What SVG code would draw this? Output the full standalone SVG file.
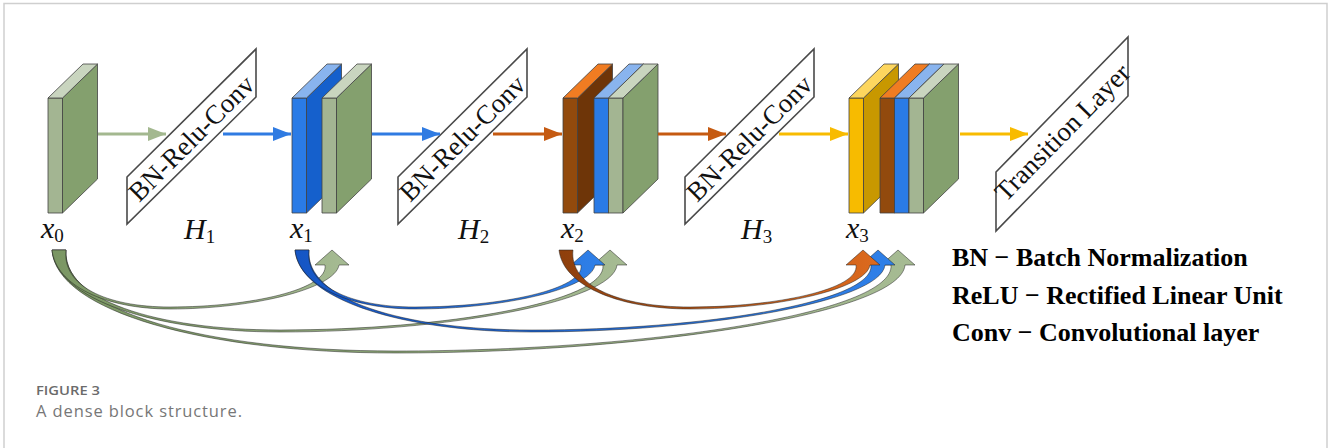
<svg xmlns="http://www.w3.org/2000/svg" width="1328" height="448" viewBox="0 0 1328 448">
  <defs>
    <style>
      .edge { stroke: #424242; stroke-width: 0.8; stroke-linejoin: round; }
      .g-front { fill: #a3b592; } .g-side { fill: #84a06e; } .g-top { fill: #c9d5bf; }
      .b-front { fill: #2a7be6; } .b-side { fill: #1560cc; } .b-top { fill: #89b4ee; }
      .o-front { fill: #924a0d; } .o-side { fill: #6e3508; } .o-top { fill: #f07c22; }
      .y-front { fill: #f7bb00; } .y-side { fill: #c89800; } .y-top { fill: #fdd65e; }
      .op { fill: #ffffff; stroke: #4a4a4a; stroke-width: 1.6; stroke-linejoin: miter; }
      .optext { font-family: "Liberation Serif", "Times New Roman", serif; font-size: 27px; fill: #111; text-anchor: middle; }
      .math { font-family: "Liberation Serif", "Times New Roman", serif; font-size: 30px; fill: #111; }
      .legend { font-family: "Liberation Serif", "Times New Roman", serif; font-size: 26px; font-weight: bold; fill: #000; }
      .flow { fill: none; stroke-width: 3; }
      .skip { stroke: #1e1e1e; stroke-opacity: 0.7; stroke-width: 0.7; stroke-linejoin: round; }
      .cap1 { font-family: "Open Sans", "Liberation Sans", sans-serif; font-size: 12.5px; font-weight: 600; fill: #6b6b6b; }
      .cap2 { font-family: "Open Sans", "Liberation Sans", sans-serif; font-size: 16.5px; fill: #777777; }
    </style>
    <marker id="ah-green" markerUnits="userSpaceOnUse" markerWidth="18" markerHeight="14" refX="18" refY="7" orient="auto">
      <path d="M0,0 L18,7 L0,14 z" fill="#a3b88f"/>
    </marker>
    <marker id="ah-blue" markerUnits="userSpaceOnUse" markerWidth="18" markerHeight="14" refX="18" refY="7" orient="auto">
      <path d="M0,0 L18,7 L0,14 z" fill="#2f7be2"/>
    </marker>
    <marker id="ah-orange" markerUnits="userSpaceOnUse" markerWidth="18" markerHeight="14" refX="18" refY="7" orient="auto">
      <path d="M0,0 L18,7 L0,14 z" fill="#c55a11"/>
    </marker>
    <marker id="ah-yellow" markerUnits="userSpaceOnUse" markerWidth="18" markerHeight="14" refX="18" refY="7" orient="auto">
      <path d="M0,0 L18,7 L0,14 z" fill="#f8bb00"/>
    </marker>
    <linearGradient id="grad-green" x1="0" y1="0" x2="1" y2="0">
      <stop offset="0" stop-color="#7a9663"/>
      <stop offset="1" stop-color="#a6bb93"/>
    </linearGradient>
    <linearGradient id="grad-blue" x1="0" y1="0" x2="1" y2="0">
      <stop offset="0" stop-color="#1555c4"/>
      <stop offset="1" stop-color="#2f80e8"/>
    </linearGradient>
    <linearGradient id="grad-orange" x1="0" y1="0" x2="1" y2="0">
      <stop offset="0" stop-color="#8e3f0c"/>
      <stop offset="1" stop-color="#dd6a1e"/>
    </linearGradient>
  </defs>

  <rect width="1328" height="448" fill="#ffffff"/>
  <!-- open frame: top, left and right edges -->
  <path d="M4,448 V3.5 H1327 V448" fill="none" stroke="#cfcfcf" stroke-width="1.5"/>

  <!-- feature map x0 -->
  <g id="x0">
    <rect class="g-front edge" x="48" y="98" width="14.5" height="115"/>
    <polygon class="g-side edge" points="62.5,98 97.5,64 97.5,179 62.5,213"/>
    <polygon class="g-top edge" points="48,98 83,64 97.5,64 62.5,98"/>
    <text class="math" x="41" y="238"><tspan font-style="italic">x</tspan><tspan font-size="19" dy="4">0</tspan></text>
  </g>

  <!-- composite function H1 -->
  <g id="h1">
    <polygon class="op" points="127,177 256,49 256,97 127,224"/>
    <text class="optext" transform="translate(192,139) rotate(-45)" y="8">BN-Relu-Conv</text>
    <text class="math" x="184" y="239"><tspan font-style="italic">H</tspan><tspan font-size="19" dy="4">1</tspan></text>
  </g>

  <!-- feature map x1 -->
  <g id="x1">
    <rect class="b-front edge" x="292" y="98" width="14.5" height="115"/>
    <polygon class="b-side edge" points="306.5,98 341.5,64 341.5,179 306.5,213"/>
    <polygon class="b-top edge" points="292,98 327,64 341.5,64 306.5,98"/>
    <rect class="g-front edge" x="322" y="98" width="14.5" height="115"/>
    <polygon class="g-side edge" points="336.5,98 371.5,64 371.5,179 336.5,213"/>
    <polygon class="g-top edge" points="322,98 357,64 371.5,64 336.5,98"/>
    <text class="math" x="290" y="238"><tspan font-style="italic">x</tspan><tspan font-size="19" dy="4">1</tspan></text>
  </g>

  <!-- composite function H2 -->
  <g id="h2">
    <polygon class="op" points="398,177 527,49 527,97 398,224"/>
    <text class="optext" transform="translate(463,139) rotate(-45)" y="8">BN-Relu-Conv</text>
    <text class="math" x="458" y="239"><tspan font-style="italic">H</tspan><tspan font-size="19" dy="4">2</tspan></text>
  </g>

  <!-- feature map x2 -->
  <g id="x2">
    <rect class="o-front edge" x="563" y="98" width="14.5" height="115"/>
    <polygon class="o-side edge" points="577.5,98 612.5,64 612.5,179 577.5,213"/>
    <polygon class="o-top edge" points="563,98 598,64 612.5,64 577.5,98"/>
    <rect class="b-front edge" x="594" y="98" width="14.5" height="115"/>
    <polygon class="b-side edge" points="608.5,98 643.5,64 643.5,179 608.5,213"/>
    <polygon class="b-top edge" points="594,98 629,64 643.5,64 608.5,98"/>
    <rect class="g-front edge" x="608.5" y="98" width="14.5" height="115"/>
    <polygon class="g-side edge" points="623,98 658,64 658,179 623,213"/>
    <polygon class="g-top edge" points="608.5,98 643.5,64 658,64 623,98"/>
    <text class="math" x="561" y="238"><tspan font-style="italic">x</tspan><tspan font-size="19" dy="4">2</tspan></text>
  </g>

  <!-- composite function H3 -->
  <g id="h3">
    <polygon class="op" points="685,177 814,49 814,97 685,224"/>
    <text class="optext" transform="translate(750,139) rotate(-45)" y="8">BN-Relu-Conv</text>
    <text class="math" x="741" y="239"><tspan font-style="italic">H</tspan><tspan font-size="19" dy="4">3</tspan></text>
  </g>

  <!-- feature map x3 -->
  <g id="x3">
    <rect class="y-front edge" x="849" y="98" width="14.5" height="115"/>
    <polygon class="y-side edge" points="863.5,98 898.5,64 898.5,179 863.5,213"/>
    <polygon class="y-top edge" points="849,98 884,64 898.5,64 863.5,98"/>
    <rect class="o-front edge" x="880" y="98" width="14.5" height="115"/>
    <polygon class="o-side edge" points="894.5,98 929.5,64 929.5,179 894.5,213"/>
    <polygon class="o-top edge" points="880,98 915,64 929.5,64 894.5,98"/>
    <rect class="b-front edge" x="894.5" y="98" width="14.5" height="115"/>
    <polygon class="b-side edge" points="909,98 944,64 944,179 909,213"/>
    <polygon class="b-top edge" points="894.5,98 929.5,64 944,64 909,98"/>
    <rect class="g-front edge" x="909" y="98" width="14.5" height="115"/>
    <polygon class="g-side edge" points="923.5,98 958.5,64 958.5,179 923.5,213"/>
    <polygon class="g-top edge" points="909,98 944,64 958.5,64 923.5,98"/>
    <text class="math" x="846" y="238"><tspan font-style="italic">x</tspan><tspan font-size="19" dy="4">3</tspan></text>
  </g>

  <!-- transition layer -->
  <g id="transition">
    <polygon class="op" points="996,172 1128,37 1128,96 996,231"/>
    <text class="optext" transform="translate(1063,133) rotate(-45.5)" y="8">Transition Layer</text>
  </g>

  <!-- connectors: forward flow and dense skip connections -->
  <g id="connectors">
    <line class="flow" x1="98" y1="134" x2="166" y2="134" stroke="#a3b88f" marker-end="url(#ah-green)"/>
    <line class="flow" x1="223" y1="134" x2="291" y2="134" stroke="#2f7be2" marker-end="url(#ah-blue)"/>
    <line class="flow" x1="372" y1="134" x2="440" y2="134" stroke="#2f7be2" marker-end="url(#ah-blue)"/>
    <line class="flow" x1="493" y1="134" x2="562" y2="134" stroke="#c55a11" marker-end="url(#ah-orange)"/>
    <line class="flow" x1="658" y1="134" x2="726" y2="134" stroke="#c55a11" marker-end="url(#ah-orange)"/>
    <line class="flow" x1="779" y1="134" x2="848" y2="134" stroke="#f8bb00" marker-end="url(#ah-yellow)"/>
    <line class="flow" x1="960" y1="134" x2="1028" y2="134" stroke="#f8bb00" marker-end="url(#ah-yellow)"/>

    <!-- x0 -> x3 -->
    <path class="skip" fill="url(#grad-green)" d="M52,250 C56,311.8 206.4,353 395,353 C646.5,353 901,313.4 905,265 L915,265 L898,250 L881,265 L891,265 C895,313.4 646.5,351 395,351 C206.4,351 62,311.8 66,250 Z"/>
    <!-- x0 -> x2 -->
    <path class="skip" fill="url(#grad-green)" d="M52,250 C56,299.2 154.6,332 280,332 C445,332 613,301.9 617,265 L627,265 L610,250 L593,265 L603,265 C607,301.9 445,330 280,330 C154.6,330 62,299.2 66,250 Z"/>
    <!-- x0 -> x1 -->
    <path class="skip" fill="url(#grad-green)" d="M52,250 C56,285.4 105.1,309 170,309 C251,309 335,289.2 339,265 L349,265 L332,250 L315,265 L325,265 C329,289.2 251,307 170,307 C105.1,307 62,285.4 66,250 Z"/>
    <!-- x1 -> x3 -->
    <path class="skip" fill="url(#grad-blue)" d="M295,250 C299,299.2 401.7,332 532,332 C705,332 881,301.9 885,265 L895,265 L878,250 L861,265 L871,265 C875,301.9 705,330 532,330 C401.7,330 305,299.2 309,250 Z"/>
    <!-- x1 -> x2 -->
    <path class="skip" fill="url(#grad-blue)" d="M295,250 C299,285.4 349,309 415,309 C501.5,309 591,289.2 595,265 L605,265 L588,250 L571,265 L581,265 C585,289.2 501.5,307 415,307 C349,307 305,285.4 309,250 Z"/>
    <!-- x2 -> x3 -->
    <path class="skip" fill="url(#grad-orange)" d="M559,250 C563,285.4 618,309 690,309 C776.5,309 866,289.2 870,265 L880,265 L863,250 L846,265 L856,265 C860,289.2 776.5,307 690,307 C618,307 569,285.4 573,250 Z"/>
  </g>

  <!-- abbreviations -->
  <g id="legend">
    <text class="legend" x="952" y="266">BN − Batch Normalization</text>
    <text class="legend" x="952" y="304">ReLU − Rectified Linear Unit</text>
    <text class="legend" x="952" y="341">Conv − Convolutional layer</text>
  </g>

  <!-- caption -->
  <g id="caption">
    <text class="cap1" x="36" y="395" textLength="64" lengthAdjust="spacingAndGlyphs">FIGURE 3</text>
    <text class="cap2" x="36" y="417" textLength="206" lengthAdjust="spacing">A dense block structure.</text>
  </g>
</svg>
